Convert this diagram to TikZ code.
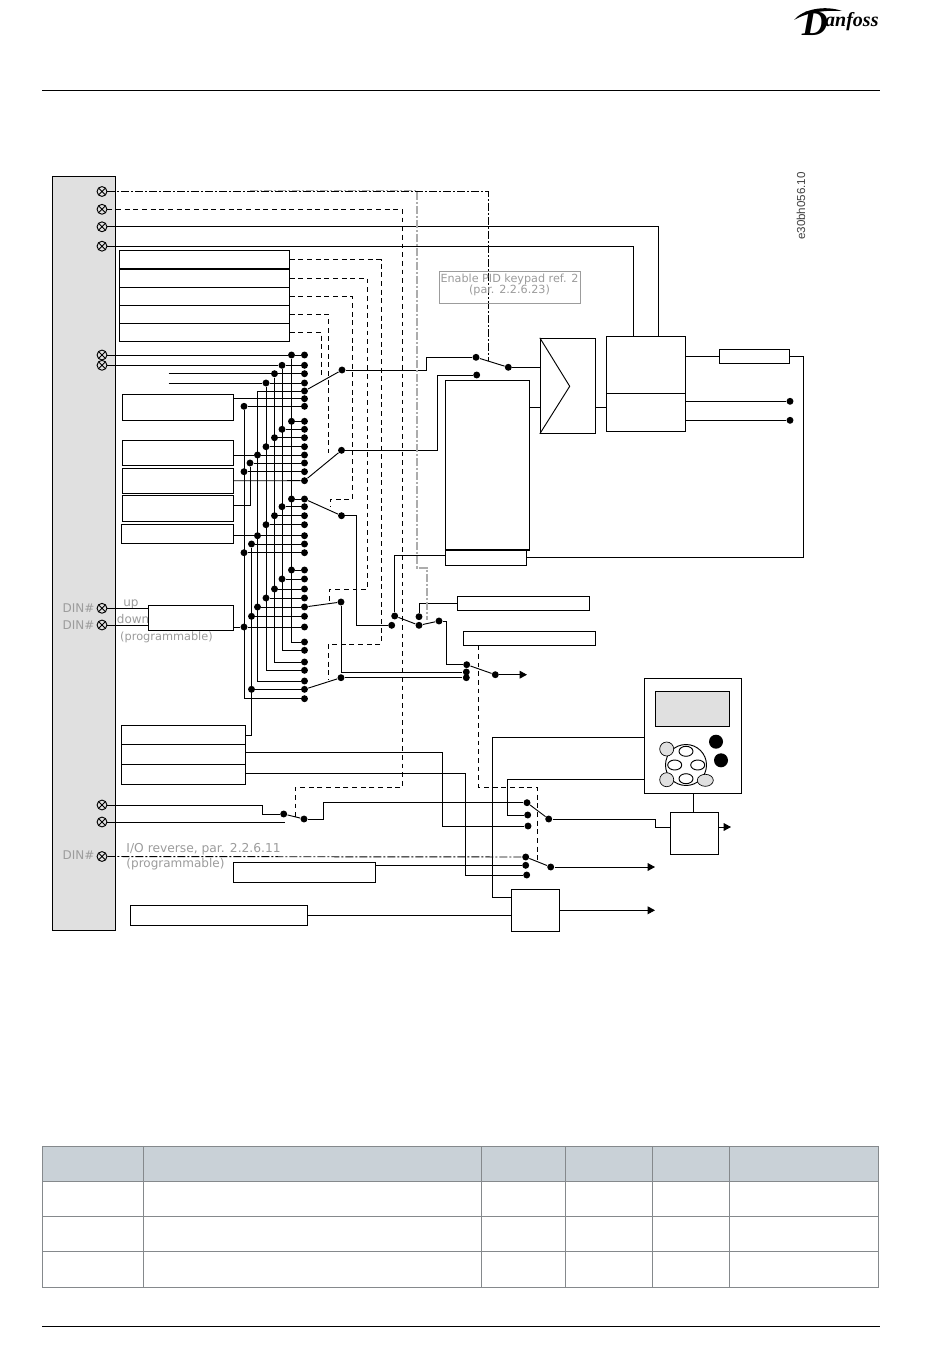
\documentclass[tikz,border=0pt]{standalone}
\usepackage{fontspec}
\usetikzlibrary{arrows.meta,fit}
\newfontfamily\labelfont{DejaVu Sans}
\newfontfamily\codefont{Liberation Sans}
\newfontfamily\logofont{Liberation Serif}
\definecolor{panelgray}{HTML}{E0E0E0}
\definecolor{headgray}{HTML}{C9D1D7}
\definecolor{rulegray}{HTML}{85898C}
\definecolor{textgray}{HTML}{9C9C9C}
\tikzset{
  wire/.style={line width=.7pt},
  dashw/.style={wire,dash pattern=on 3.6pt off 2.9pt},
  dotw/.style={wire,dash pattern=on 6pt off 1.5pt on 1.5pt off 1.5pt},
  grayw/.style={line width=1.4pt,gray!65,dash pattern=on 6pt off 1.5pt on 1.5pt off 1.5pt},
  blk/.style={wire,draw,fill=white,inner sep=0pt},
  dot/.style={circle,fill,inner sep=0pt,minimum size=5.2pt},
  term/.style={circle,draw,wire,inner sep=0pt,minimum size=7.4pt,
    path picture={\draw (path picture bounding box.north west)--(path picture bounding box.south east)
      (path picture bounding box.north east)--(path picture bounding box.south west);}},
  graytxt/.style={text=textgray,inner sep=0pt,font=\labelfont\fontsize{9}{9}\selectfont},
  outarrow/.style={wire,-{Triangle[length=5.5pt,width=5.8pt]}}
}
\begin{document}
\begin{tikzpicture}[x=.75pt,y=-.75pt,wire]
  \path[use as bounding box,fill=white] (0,0) rectangle (950,1369);
  % page furniture
  \draw[line width=.7pt] (42,90.3) -- (880,90.3);
  \draw[line width=.7pt] (42,1326.3) -- (880,1326.3);
  \fill[headgray] (42.3,1146.3) rectangle (878.7,1181.3);
  \foreach \y in {1146.3,1181.3,1216.3,1251.3,1287.3}
    \draw[rulegray] (42.3,\y) -- (878.7,\y);
  \foreach \x in {42.3,143.3,481.3,565.3,652.3,729.3,878.7}
    \draw[rulegray] (\x,1146.3) -- (\x,1287.3);
  \fill (794,20) .. controls (803,9) and (825,5) .. (842,11) .. controls (825,10) and (808,12) .. (794,20);
  \node[inner sep=0pt,anchor=base east,font=\logofont\bfseries\itshape\fontsize{15}{15}\selectfont] (logo) at (879,27)
    {\raisebox{-6.5pt}{\fontsize{27}{27}\selectfont D}\kern-2pt anfoss};
  \node[rotate=90,inner sep=0pt,text=black!75,font=\codefont\fontsize{8.7}{8.7}\selectfont] (code) at (801,206) {e30bh056.10};

  % terminal strip
  \node[blk,fill=panelgray,fit={(52.5,176.5)(115.5,930)}] (panel) {};
  \foreach \n/\y in {1/191.5,2/209.3,3/226.8,4/246.2,5/355,6/365.3,7/608.3,8/625,9/805,10/822,11/856.5}
    \node[term] (t\n) at (102,\y) {};
  \node[graytxt] (din1) at (78.5,608) {DIN\#};
  \node[graytxt] (din2) at (78.5,625) {DIN\#};
  \node[graytxt] (din3) at (78.5,855) {DIN\#};
  \node[graytxt] (lup) at (131,604) {up};
  \node[graytxt,anchor=west] (ldown) at (116.5,619) {down};
  \node[graytxt,font=\labelfont\fontsize{8.5}{8.5}\selectfont] (lprog) at (166.5,637) {(programmable)};
  \node[graytxt,anchor=west,font=\labelfont\fontsize{9.2}{9.2}\selectfont] (lrev) at (126,849) {I/O reverse, par. 2.2.6.11};
  \node[graytxt,anchor=west] (lprogb) at (126,864) {(programmable)};

  % blocks
  \foreach \n/\xa/\ya/\xb/\yb in {a1/119.3/250.3/289.3/269,a2/119.3/269/289.3/287.3,a3/119.3/287.3/289.3/305.3,
      a4/119.3/305.3/289.3/323.3,a5/119.3/323.3/289.3/341.3,b0/122.3/394.3/233.7/420.3,b1/122.3/440.3/233.3/465.3,
      b2/122.3/468.3/233.3/493.3,b3/122.3/495.3/233.3/521.3,b4/121.3/524.3/233.3/543.3,ud/148.3/605.7/233.3/630.3,
      s1/121.7/725.3/245.7/744.3,s2/121.7/744.3/245.7/764.3,s3/121.7/764.3/245.7/784.3,
      rb/233.3/862.3/375.7/882.3,wb/130.3/905.3/307.7/925.3,pid/445.3/380.3/529.3/549.3,low/445.3/549.3/526.7/565.3,
      amp/540.3/338.3/595.3/433.3,drvA/606.3/336.3/685.7/393.3,drvB/606.3/393.3/685.7/431.3,res/719.3/349.3/789.3/363.3,
      bb/457.3/596.3/589.7/610.3,bc/463.3/631.3/595.7/645.3,dbox/511.3/889.3/559.7/931.3,tbox/670.3/812.3/718.7/854.3}
    \node[blk,fit={(\xa,\ya)(\xb,\yb)}] (\n) {};
  \draw[line width=1.5pt] (a1.south west) -- (a1.south east);
  \draw[line width=1.5pt] (pid.south west) -- (pid.south east);
  \draw (amp.north west) -- (569.7,386.3) -- (amp.south west);

  % selector matrix
  \foreach \n/\y/\x in {1/355/291.5,2/365.3/282,3/373.7/274.5,4/383/266,7/406.3/244,8/421.3/291.5,9/429.3/282,
      10/437.7/274.5,11/446.7/266,12/455/257.5,13/463/250,14/471.7/244,16/499/291.5,17/506.7/282,18/515.7/274.5,
      19/524.7/266,20/535.7/257.5,21/544/251.5,22/552.7/244,23/570/291.5,24/579/282,25/589/274.5,26/598/266,
      27/607/257.5,28/616.3/251.5,29/627/244,35/689.3/251.5}{
    \node[dot] (r\n) at (304.5,\y) {};
    \node[dot] (j\n) at (\x,\y) {};
    \draw (j\n) -- (r\n);
  }
  \foreach \n/\y in {5/391,6/398.7,15/480.7,30/642,31/650.3,32/662,33/670.3,34/681,36/698.7}
    \node[dot] (r\n) at (304.5,\y) {};
  \coordinate (in3) at (168.5,373.7);
  \coordinate (in4) at (168.5,383);
  \coordinate (k5) at (257.5,391);
  \coordinate (b0p) at (233.7,398.7);
  \coordinate (b1p) at (233.3,455);
  \coordinate (b3p) at (233.3,505.3);
  \coordinate (b4p) at (233.3,535.7);
  \coordinate (udp) at (233.3,627);
  \coordinate (s1p) at (245.7,735.7);
  \draw (t5) -- (j1);
  \draw (t6) -- (j2);
  \draw (in3) -- (j3);
  \draw (in4) -- (j4);
  \draw (j1) |- (r30);
  \draw (j2) |- (r31);
  \draw (j3) |- (r32);
  \draw (j4) |- (r33);
  \draw (k5) -- (r5);
  \draw (k5) |- (r34);
  \draw (j7) |- (r36);
  \draw (j21) |- (s1p);
  \draw (j13) |- (b3p);
  \draw (b0p) -- (r6);
  \draw (b1p) -- (j12);
  \draw (b2) -- (r15);
  \draw (b4p) -- (j20);
  \draw (udp) -- (j29);
  \draw (t7) -- (t7 -| ud.west);
  \draw (t8) -- (t8 -| ud.west);

  % switches
  \foreach \n/\x/\y in {m1/342/370,m2/341.5/450.3,m3/341.5/515.7,m4/341/602,m5/341/677.7,
      sa/476/357.3,sb/476.7/375,sc/508.3/367.3,sd/391.7/625.3,se/394.7/616,sf/419/616.7,sg/419/625.3,sh/439/621,
      si/466.7/664.7,sj/466.3/672,sk/466.3/677.7,sl/495.3/674.7,va/283.7/814,vb/304/819,
      ua/527/802.7,ub/527.7/815,uc/528/826,ud2/548.7/819,la/525.7/857,lb/525.7/865.3,lc/526.7/875,ld/550.7/867,
      ra/790/401.3,rb2/790/420.3}
    \node[dot] (\n) at (\x,\y) {};
  \foreach \a/\b in {r5/m1,r15/m2,r16/m3,r27/m4,r35/m5,sa/sc,se/sg,sg/sh,si/sl,va/vb,ua/ud2,la/ld}
    \draw (\a) -- (\b);
  \coordinate (vc) at (285,822);
  \coordinate (lowp) at (445.3,555.3);
  \coordinate (kA) at (644.3,737.3);
  \coordinate (kB) at (644.3,779.3);
  \coordinate (dp) at (511.3,897.3);
  \coordinate (s2p) at (245.7,752.3);
  \coordinate (s3p) at (245.7,773.3);
  \coordinate (rbp) at (375.7,865.3);
  \coordinate (tin) at (670.3,827.3);
  \coordinate (tout) at (718.7,827);
  \coordinate (ampin) at (540.3,367.3);
  \coordinate (drvt) at (658,336.3);
  \coordinate (drvu) at (633,336.3);
  \draw (m1) -- (426.7,370) -- (426.7,357.3) -- (sa);
  \draw (m2) -- (437.3,450.3) -- (437.3,375) -- (sb);
  \draw (sc) -- (ampin);
  \draw (m3) -- (356.3,515.7) |- (sd);
  \draw (se) |- (lowp);
  \draw (sf) |- (bb.west);
  \draw (sh) -- (446.3,621) |- (si);
  \draw (m4) |- (sj);
  \draw (m5) -- (sk);
  \draw (t3) -| (drvt);
  \draw (t4) -| (drvu);
  \draw (t9) -- (262.7,805) -- (262.7,814) -- (va);
  \draw (t10) -- (vc);
  \draw (vb) -- (323.3,819) -- (323.3,802.7) -- (ua);
  \draw (kA) -- (492.7,737.3) |- (dp);
  \draw (kB) -- (507.7,779.3) |- (ub);
  \draw (s2p) -- (442.3,752.3) |- (uc);
  \draw (s3p) -- (465.3,773.3) |- (lc);
  \draw (rbp) -- (lb);
  \draw (wb) -- (wb -| dbox.west);
  \draw (ud2) -- (655.7,819) |- (tin);
  \draw (low) -- (803.3,557.3) |- (res);
  \draw (res) -- (res -| drvA.east);
  \draw (529.3,407.3) -- (540.3,407.3);
  \draw (595.3,407.3) -- (606.3,407.3);
  \draw (ra) -- (ra -| drvA.east);
  \draw (rb2) -- (rb2 -| drvA.east);
  \draw[outarrow] (sl) -- (527,674.7);
  \draw[outarrow] (ld) -- (655,867);
  \draw[outarrow] (dbox) -- (655,910.3);
  \draw[outarrow] (tout) -- (731,827);

  % control lines
  \draw[grayw] (250,190.5) -- (416.7,190.5) -- (416.7,567.7) -- (426.7,567.7) -- (426.7,620);
  \draw[dotw] (t1) -| (488,361);
  \draw[dashw] (t2) -| (402.5,787.3) -| (295.3,817);
  \draw[dashw] (a1) -| (381,644.3) -| (328.3,680);
  \draw[dashw] (a2) -| (367.3,589.3) -| (329.3,602);
  \draw[dashw] (a3) -| (352.3,499.3) -| (330,507);
  \draw[dashw] (a4) -| (328.3,453);
  \draw[dashw] (a5) -| (321,377);
  \draw[dashw] (478.7,645.3) -- (478.7,787.3) -- (537.3,787.3) -- (537.3,860);
  \draw[dotw] (t11) -- (la);

  \node[draw=textgray,inner sep=0pt,fit={(439.3,271.7)(580.3,303.3)}] (pidnote) {};
  \node[text=textgray,inner sep=0pt,align=center,font=\labelfont\fontsize{8.4}{8.3}\selectfont] (pidtxt) at (509.5,285) {Enable PID keypad ref. 2\\(par. 2.2.6.23)};

  % keypad
  \node[blk,fit={(644.3,678.3)(741.7,793.3)}] (key) {};
  \node[blk,fill=panelgray,fit={(655.3,691.3)(729.7,726.3)}] (screen) {};
  \coordinate (keyo) at (693.3,793.3);
  \draw (keyo) -- (keyo |- tbox.north);
  \draw (686,765) circle (20.5);
  \foreach \x/\y in {686/751.3,674.7/765,697.7/765,686/778.7}
    \draw[fill=white] (\x,\y) ellipse (7 and 5);
  \foreach \x/\y in {666.7/749,666.7/779.7}
    \draw[fill=panelgray,line width=.5pt] (\x,\y) circle (7);
  \draw[fill=panelgray,line width=.5pt] (705.3,780.3) ellipse (8 and 6);
  \fill (716,741.7) circle (7);
  \fill (721,760.3) circle (7);
\end{tikzpicture}
\end{document}
